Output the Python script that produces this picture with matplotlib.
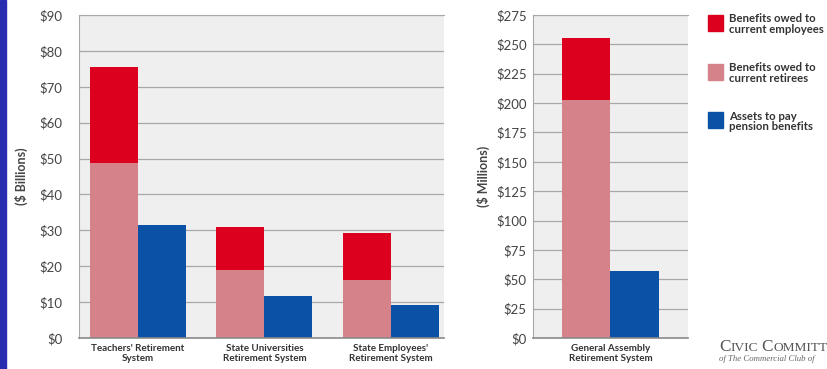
import matplotlib

matplotlib.use("Agg")
import matplotlib.pyplot as plt
import numpy as np
from matplotlib.patches import Rectangle

# ---- data ----
systems = ["Teachers' Retirement\nSystem",
           "State Universities\nRetirement System",
           "State Employees'\nRetirement System"]
retirees_bn = [48.7, 18.9, 16.2]          # pink, bottom of stack
employees_bn = [26.9, 11.9, 13.1]         # red, on top of pink
assets_bn = [31.4, 11.8, 9.1]             # blue

ga_system = ["General Assembly\nRetirement System"]
ga_retirees_m = [203]
ga_employees_m = [52]
ga_assets_m = [57]

legend_labels = ["Benefits owed to\ncurrent employees",
                 "Benefits owed to\ncurrent retirees",
                 "Assets to pay\npension benefits"]

RED = "#dc001e"
PINK = "#d5828a"
BLUE = "#0b52a6"
PANEL = "#efefef"
GRID = "#a8a8a8"
TXT = "#444444"

plt.rcParams["font.family"] = ["Lato", "DejaVu Sans"]

fig = plt.figure(figsize=(8.28, 3.69), dpi=100)
fig.patch.set_facecolor("white")
# slide edge strip on the left
fig.add_artist(Rectangle((0, 0), 6 / 828, 1, transform=fig.transFigure,
                         color="#2a2cb0", zorder=0))

ax1 = fig.add_axes([79 / 828, 31 / 369, 365 / 828, 323 / 369])
ax2 = fig.add_axes([533 / 828, 31 / 369, 155 / 828, 323 / 369])

W = 0.38


def style(ax, ymax, step, ylabel, pad, labelpad):
    ax.set_facecolor(PANEL)
    ax.set_ylim(0, ymax)
    ticks = np.arange(0, ymax + 1, step)
    ax.set_yticks(ticks)
    ax.set_yticklabels([f"${v:g}" for v in ticks])
    ax.yaxis.grid(True, color=GRID, lw=0.9)
    ax.set_axisbelow(True)
    ax.spines["right"].set_visible(False)
    for s in ["left", "top"]:
        ax.spines[s].set_color(GRID)
    ax.spines["bottom"].set_color("#8a8a8a")
    ax.spines["bottom"].set_linewidth(1.2)
    ax.tick_params(axis="y", length=0, pad=pad, labelsize=9.5, labelcolor=TXT)
    ax.tick_params(axis="x", length=0, pad=4, labelsize=7.1, labelcolor="#333333")
    for lab in ax.get_xticklabels():
        lab.set_fontweight("bold")
        lab.set_linespacing(1.25)
    ax.set_ylabel(ylabel, fontsize=9, color=TXT, fontweight="bold", labelpad=labelpad)


x = np.arange(len(systems))
ax1.bar(x - W / 2, retirees_bn, W, color=PINK)
ax1.bar(x - W / 2, employees_bn, W, bottom=retirees_bn, color=RED)
ax1.bar(x + W / 2, assets_bn, W, color=BLUE)
ax1.set_xlim(-0.466, 2.42)
ax1.set_xticks(x)
ax1.set_xticklabels(systems)
style(ax1, 90, 10, "($ Billions)", 12, 8)

x2 = np.arange(len(ga_system))
W2 = 0.31
ax2.bar(x2 - W2 / 2, ga_retirees_m, W2, color=PINK)
ax2.bar(x2 - W2 / 2, ga_employees_m, W2, bottom=ga_retirees_m, color=RED)
ax2.bar(x2 + W2 / 2, ga_assets_m, W2, color=BLUE)
ax2.set_xlim(-0.5, 0.5)
ax2.set_xticks(x2)
ax2.set_xticklabels(ga_system)
style(ax2, 275, 25, "($ Millions)", 4.5, 4)

# legend, drawn by hand to match the layout
for i, (lab, col) in enumerate(zip(legend_labels, [RED, PINK, BLUE])):
    top = 15 + i * 48.5
    fig.add_artist(Rectangle((708 / 828, 1 - (top + 16) / 369), 15 / 828, 16 / 369,
                             transform=fig.transFigure, color=col))
    fig.text(729 / 828, 1 - (top - 1.5) / 369, lab, ha="left", va="top",
             fontsize=8.2, fontweight="bold", color="#333333", linespacing=0.95)

# logo text in small caps, chained piece by piece, as far as the source shows it
renderer = fig.canvas.get_renderer()
xpos = 719.0
for piece, size, gap in [("C", 12.3, 0.3), ("IVIC", 9.6, 3.0), ("C", 12.3, 0.3), ("OMMITT", 9.6, 0)]:
    t = fig.text(xpos / 828, 1 - 351 / 369, piece, ha="left", va="baseline",
                 fontsize=size, family="Liberation Serif", color="#555555")
    xpos += t.get_window_extent(renderer).width + gap
fig.text(719 / 828, 1 - 361 / 369, "of The Commercial Club of", ha="left",
         va="baseline", fontsize=6.3, family="Liberation Serif", style="italic",
         color="#666666")

fig.savefig("out.png", dpi=100)
